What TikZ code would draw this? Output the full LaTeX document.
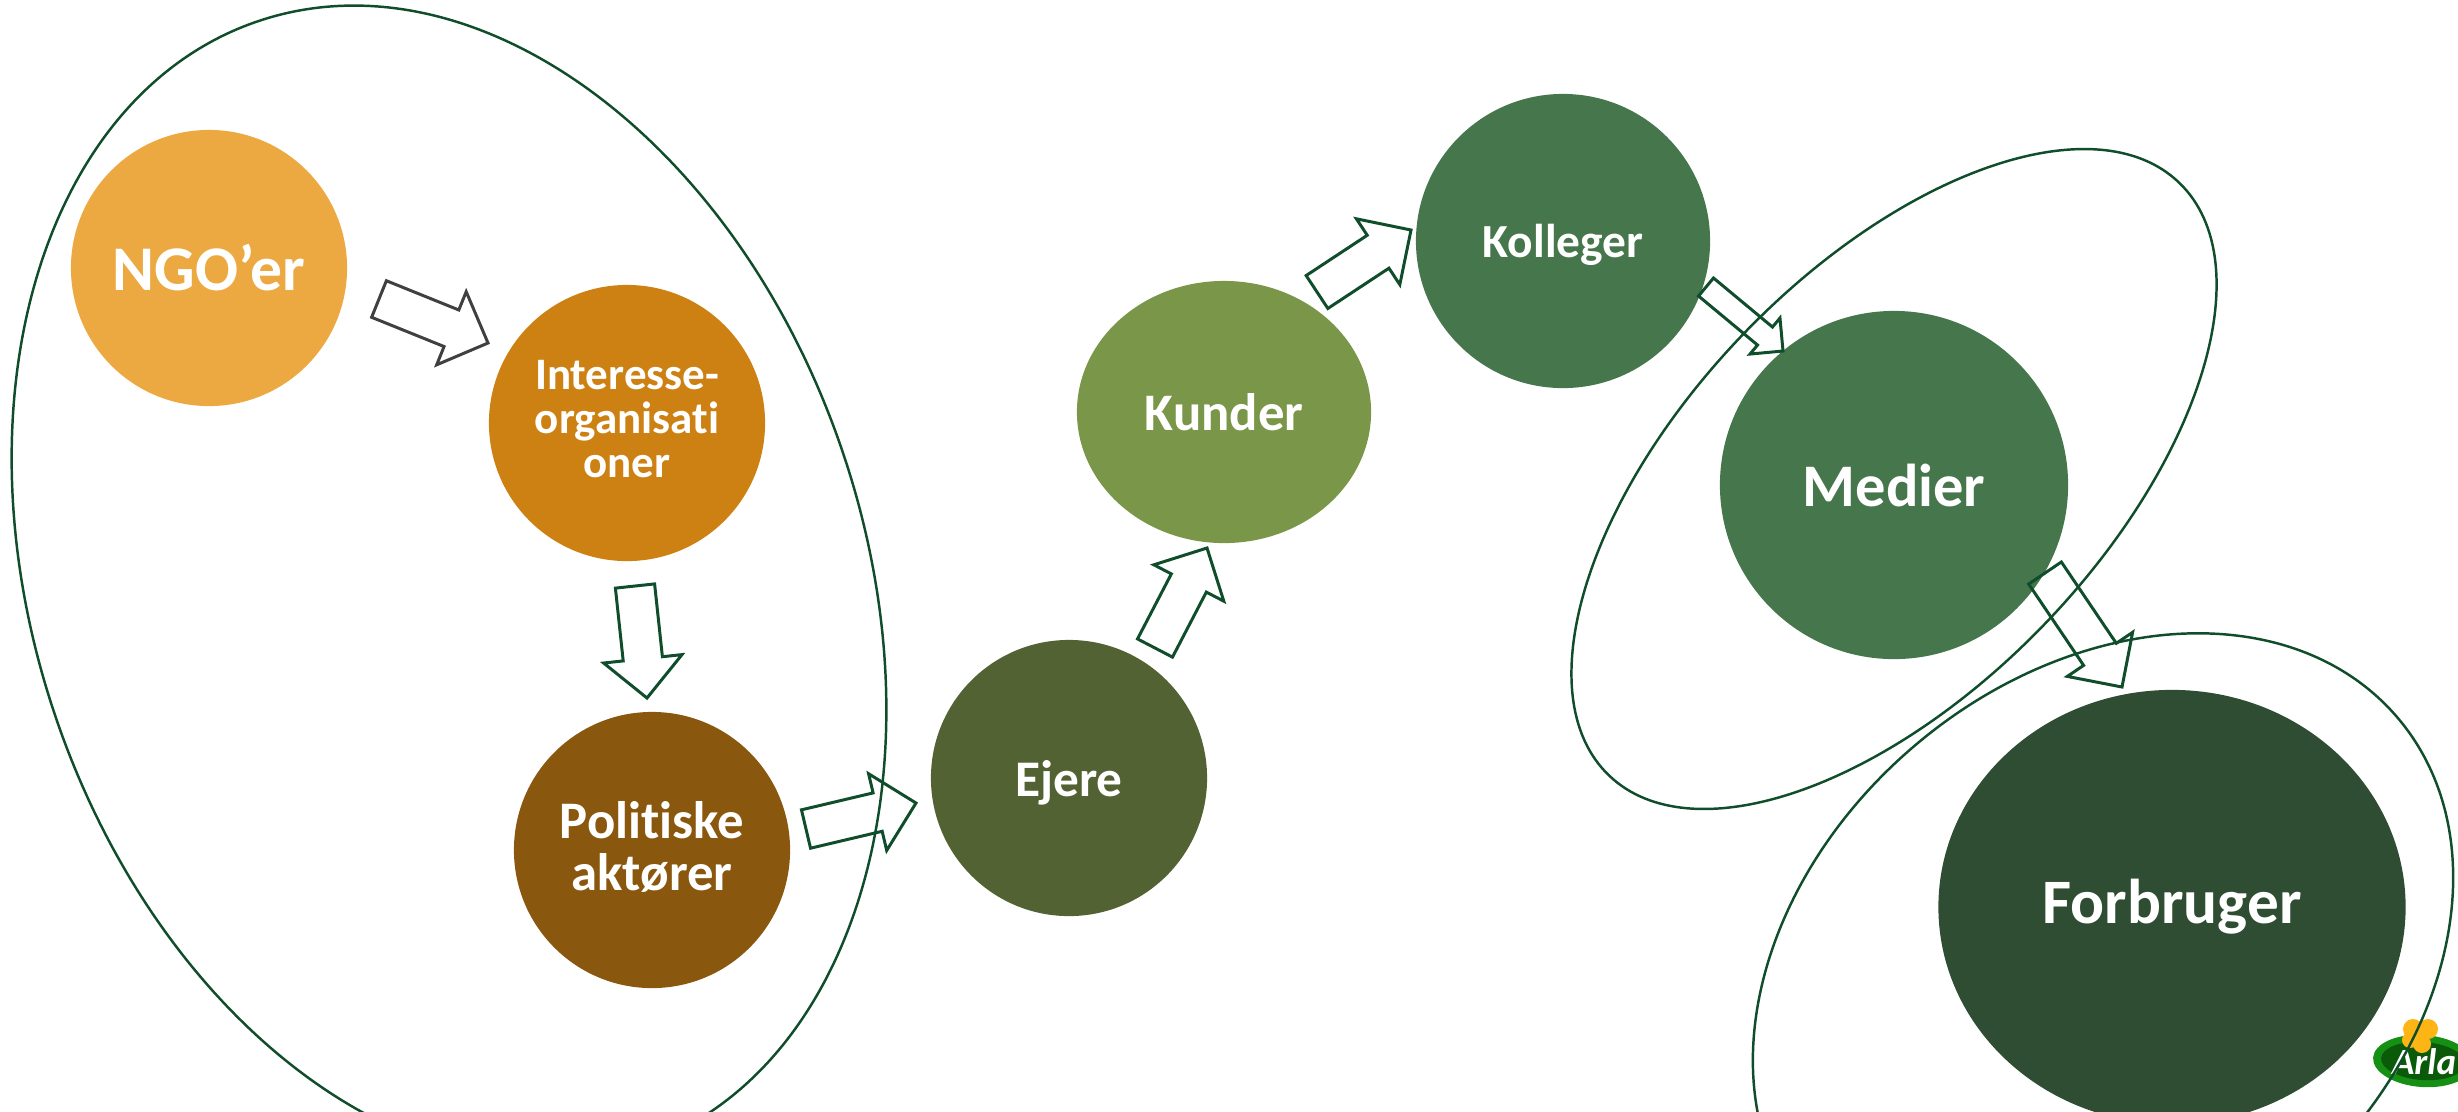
\documentclass[tikz,border=0pt]{standalone}
\usepackage{fontspec}
\setmainfont{Carlito}[Ligatures=CommonOff]
\usetikzlibrary{shapes.geometric}
\usetikzlibrary{calc}
\definecolor{ringgreen}{HTML}{0F4D2B}
\definecolor{greyline}{HTML}{404040}
\definecolor{ngoorange}{HTML}{EDA941}
\definecolor{interorange}{HTML}{CE8113}
\definecolor{polbrown}{HTML}{8A570E}
\definecolor{ownerolive}{HTML}{526232}
\definecolor{kundegreen}{HTML}{7A9648}
\definecolor{midgreen}{HTML}{46764C}
\definecolor{darkgreen}{HTML}{2F4D32}
\definecolor{arlagreen}{HTML}{159015}
\definecolor{arladark}{HTML}{0A5A0A}
\definecolor{arlayellow}{HTML}{FDB515}
\tikzset{
  bubble/.style={ellipse,inner sep=0pt,outer sep=0pt,text=white,align=center,font=\bfseries},
  ring/.style={ellipse,draw=ringgreen,line width=.7pt,inner sep=0pt},
  arrowline/.style={draw=ringgreen,line width=.85pt,line join=miter},
  logoarrow/.style={draw=greyline,line width=.85pt,line join=miter},
}
% block arrow from tail to tip, #4 is half the shaft width
\newcommand{\blockarrow}[4][arrowline]{
  \coordinate (neck) at ($(#3)!2*#4!(#2)$);
  \draw[#1] ($(#2)!#4!90:(#3)$)--($(neck)!#4!90:(#3)$)--($(neck)!2*#4!90:(#3)$)--(#3)
    --($(neck)!2*#4!-90:(#3)$)--($(neck)!#4!-90:(#3)$)--($(#2)!#4!-90:(#3)$)--cycle;
}
\begin{document}
\begin{tikzpicture}[x=.01cm,y=-.01cm]
\useasboundingbox (0,0) rectangle (2458,1111);
\clip (0,0) rectangle (2458,1111);
\node[bubble,fill=ngoorange,minimum width=2.76cm,minimum height=2.76cm,font=\bfseries\fontsize{18.1pt}{20pt}\selectfont] (ngo) at (209,268) {NGO’er};
\node[bubble,fill=interorange,minimum width=2.76cm,minimum height=2.76cm,text depth=2.3pt,font=\bfseries\fontsize{12.8pt}{12.5pt}\selectfont] (inter) at (627,423) {Interesse-\\organisati\\oner};
\node[bubble,fill=polbrown,minimum width=2.76cm,minimum height=2.76cm,text depth=2.3pt,font=\bfseries\fontsize{15pt}{14.6pt}\selectfont] (pol) at (652,850) {Politiske\\aktører};
\node[bubble,fill=ownerolive,minimum width=2.76cm,minimum height=2.76cm,text depth=0pt,font=\bfseries\fontsize{14.6pt}{16pt}\selectfont] (ejere) at (1069,778) {Ejere};
\node[bubble,fill=kundegreen,minimum width=2.94cm,minimum height=2.62cm,font=\bfseries\fontsize{15pt}{16pt}\selectfont] (kunder) at (1224,412) {Kunder};
\node[bubble,fill=midgreen,minimum width=2.94cm,minimum height=2.94cm,text depth=0pt,font=\bfseries\fontsize{13.5pt}{16pt}\selectfont] (kolleger) at (1563,241) {Kolleger};
\node[bubble,fill=midgreen,minimum width=3.48cm,minimum height=3.48cm,font=\bfseries\fontsize{17.2pt}{20pt}\selectfont] (medier) at (1894,485) {Medier};
\node[bubble,fill=darkgreen,minimum width=4.67cm,minimum height=4.34cm,font=\bfseries\fontsize{18pt}{20pt}\selectfont] (forbruger) at (2172,907) {Forbruger};
% logo
\node[ellipse,fill=arlagreen,minimum width=1.0cm,minimum height=.52cm,inner sep=0pt,rotate=-4] (logo) at (2423,1061) {};
\node[ellipse,fill=arladark,minimum width=.84cm,minimum height=.38cm,inner sep=0pt,rotate=-4] (logoin) at (2423,1061) {};
\fill[arlayellow] (2413,1029) circle(10) (2428,1029) circle(10) (2410,1040) circle(8) (2422,1044) circle(9);
\node[text=white,inner sep=0pt,font=\bfseries\itshape\fontsize{10.5pt}{12pt}\selectfont] (arla) at (2424,1062) {Arla};
% the three rings
\node[ring,minimum width=11.88cm,minimum height=8.3cm,rotate=-71.2] (ringleft) at (449,584) {};
\node[ring,minimum width=8.22cm,minimum height=4.18cm,rotate=46.1] (ringmid) at (1894,479) {};
\node[ring,minimum width=7.74cm,minimum height=5.84cm,rotate=40.6] (ringlow) at (2103,969) {};
% arrows
\coordinate (t1) at ($(ngo)+(170,31)$);
\coordinate (h1) at ($(inter)+(-139,-80)$);
\coordinate (t2) at ($(inter)+(8,163)$);
\coordinate (h2) at ($(pol)+(-5,-152)$);
\coordinate (t3) at ($(pol)+(154,-21)$);
\coordinate (h3) at ($(ejere)+(-153,25)$);
\coordinate (t4) at ($(ejere)+(86,-130)$);
\coordinate (h4) at ($(kunder)+(-17,136)$);
\coordinate (t5) at ($(kunder)+(93,-120)$);
\coordinate (h5) at ($(kolleger)+(-152,-11)$);
\coordinate (t6) at ($(kolleger)+(143,46)$);
\coordinate (h6) at ($(medier)+(-111,-134)$);
\coordinate (t7) at ($(medier)+(151,88)$);
\coordinate (h7) at ($(forbruger)+(-50,-220)$);
\blockarrow[logoarrow]{t1}{h1}{.197cm}
\blockarrow{t2}{h2}{.197cm}
\blockarrow{t3}{h3}{.197cm}
\blockarrow{t4}{h4}{.197cm}
\blockarrow{t5}{h5}{.197cm}
\blockarrow{t6}{h6}{.117cm}
\blockarrow{t7}{h7}{.197cm}
\end{tikzpicture}
\end{document}
